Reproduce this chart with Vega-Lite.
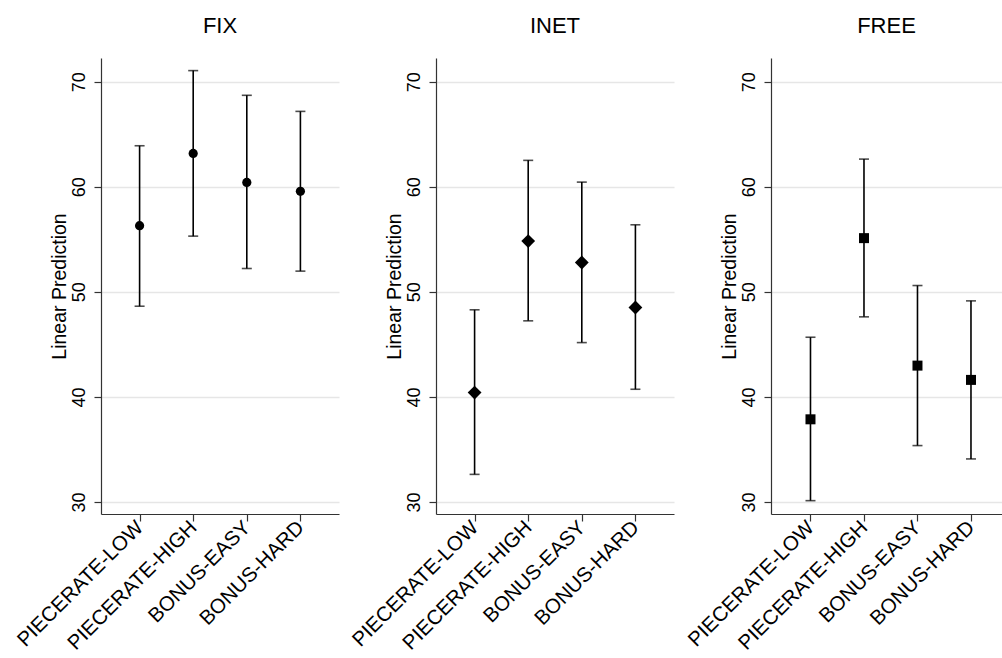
{
  "$schema": "https://vega.github.io/schema/vega-lite/v6.json",
  "background": "white",
  "padding": {"left": 13, "top": 15, "right": 0, "bottom": 0},
  "autosize": {"type": "pad"},
  "spacing": 97,
  "bounds": "flush",
  "data": {
    "values": [
      {"model": "FIX", "treatment": "PIECERATE-LOW", "est": 56.29, "lo": 48.63, "hi": 63.9},
      {"model": "FIX", "treatment": "PIECERATE-HIGH", "est": 63.17, "lo": 55.3, "hi": 71.05},
      {"model": "FIX", "treatment": "BONUS-EASY", "est": 60.41, "lo": 52.22, "hi": 68.7},
      {"model": "FIX", "treatment": "BONUS-HARD", "est": 59.56, "lo": 51.97, "hi": 67.17},
      {"model": "INET", "treatment": "PIECERATE-LOW", "est": 40.41, "lo": 32.63, "hi": 48.29},
      {"model": "INET", "treatment": "PIECERATE-HIGH", "est": 54.83, "lo": 47.24, "hi": 62.51},
      {"model": "INET", "treatment": "BONUS-EASY", "est": 52.79, "lo": 45.17, "hi": 60.44},
      {"model": "INET", "treatment": "BONUS-HARD", "est": 48.51, "lo": 40.73, "hi": 56.38},
      {"model": "FREE", "treatment": "PIECERATE-LOW", "est": 37.87, "lo": 30.13, "hi": 45.68},
      {"model": "FREE", "treatment": "PIECERATE-HIGH", "est": 55.11, "lo": 47.62, "hi": 62.63},
      {"model": "FREE", "treatment": "BONUS-EASY", "est": 42.98, "lo": 35.37, "hi": 50.6},
      {"model": "FREE", "treatment": "BONUS-HARD", "est": 41.62, "lo": 34.1, "hi": 49.14}
    ]
  },
  "config": {
    "font": "Liberation Sans",
    "view": {"stroke": null},
    "title": {"fontSize": 22, "fontWeight": "normal", "color": "black", "baseline": "alphabetic", "offset": 20, "anchor": "middle"},
    "axis": {
      "domainColor": "#333333",
      "domainWidth": 1.2,
      "tickColor": "#333333",
      "tickWidth": 1.2,
      "tickSize": 7,
      "labelColor": "black",
      "titleColor": "black",
      "labelFont": "Liberation Sans",
      "titleFont": "Liberation Sans"
    },
    "axisX": {
      "labelAngle": -45,
      "labelAlign": "right",
      "labelBaseline": "middle",
      "labelFontSize": 20.5,
      "labelPadding": 3,
      "labelLimit": 0,
      "grid": false,
      "title": null
    },
    "axisY": {
      "labelAngle": -90,
      "labelAlign": "center",
      "labelBaseline": "alphabetic",
      "labelFontSize": 18,
      "labelPadding": 10,
      "titleFontSize": 19.5,
      "titleFontWeight": "normal",
      "titlePadding": 1,
      "grid": true,
      "gridColor": "#e6e6e6",
      "gridWidth": 1.5
    }
  },
  "hconcat": [
    {
      "title": "FIX",
      "width": 238,
      "height": 456,
      "transform": [{"filter": "datum.model === 'FIX'"}],
      "encoding": {
        "x": {"field": "treatment", "type": "ordinal", "sort": ["PIECERATE-LOW", "PIECERATE-HIGH", "BONUS-EASY", "BONUS-HARD"], "scale": {"type": "point", "padding": 0.72}}
      },
      "layer": [
        {"mark": {"type": "rule", "color": "black", "strokeWidth": 1.6},
         "encoding": {"y": {"field": "lo", "type": "quantitative", "title": "Linear Prediction", "axis": {"values": [30, 40, 50, 60, 70]}, "scale": {"domain": [28.86, 72.25], "nice": false, "zero": false}}, "y2": {"field": "hi"}}},
        {"mark": {"type": "tick", "color": "black", "size": 10, "thickness": 1.6},
         "encoding": {"y": {"field": "lo", "type": "quantitative", "title": "Linear Prediction"}}},
        {"mark": {"type": "tick", "color": "black", "size": 10, "thickness": 1.6},
         "encoding": {"y": {"field": "hi", "type": "quantitative", "title": "Linear Prediction"}}},
        {"mark": {"type": "point", "shape": "circle", "filled": true, "color": "black", "opacity": 1, "size": 85},
         "encoding": {"y": {"field": "est", "type": "quantitative", "title": "Linear Prediction"}}}
      ]
    },
    {
      "title": "INET",
      "width": 238,
      "height": 456,
      "transform": [{"filter": "datum.model === 'INET'"}],
      "encoding": {
        "x": {"field": "treatment", "type": "ordinal", "sort": ["PIECERATE-LOW", "PIECERATE-HIGH", "BONUS-EASY", "BONUS-HARD"], "scale": {"type": "point", "padding": 0.72}}
      },
      "layer": [
        {"mark": {"type": "rule", "color": "black", "strokeWidth": 1.6},
         "encoding": {"y": {"field": "lo", "type": "quantitative", "title": "Linear Prediction", "axis": {"values": [30, 40, 50, 60, 70]}, "scale": {"domain": [28.86, 72.25], "nice": false, "zero": false}}, "y2": {"field": "hi"}}},
        {"mark": {"type": "tick", "color": "black", "size": 10, "thickness": 1.6},
         "encoding": {"y": {"field": "lo", "type": "quantitative", "title": "Linear Prediction"}}},
        {"mark": {"type": "tick", "color": "black", "size": 10, "thickness": 1.6},
         "encoding": {"y": {"field": "hi", "type": "quantitative", "title": "Linear Prediction"}}},
        {"mark": {"type": "point", "shape": "diamond", "filled": true, "color": "black", "opacity": 1, "size": 190},
         "encoding": {"y": {"field": "est", "type": "quantitative", "title": "Linear Prediction"}}}
      ]
    },
    {
      "title": "FREE",
      "width": 231,
      "height": 456,
      "transform": [{"filter": "datum.model === 'FREE'"}],
      "encoding": {
        "x": {"field": "treatment", "type": "ordinal", "sort": ["PIECERATE-LOW", "PIECERATE-HIGH", "BONUS-EASY", "BONUS-HARD"], "scale": {"type": "point", "padding": 0.659, "align": 0.56}}
      },
      "layer": [
        {"mark": {"type": "rule", "color": "black", "strokeWidth": 1.6},
         "encoding": {"y": {"field": "lo", "type": "quantitative", "title": "Linear Prediction", "axis": {"values": [30, 40, 50, 60, 70]}, "scale": {"domain": [28.86, 72.25], "nice": false, "zero": false}}, "y2": {"field": "hi"}}},
        {"mark": {"type": "tick", "color": "black", "size": 10, "thickness": 1.6},
         "encoding": {"y": {"field": "lo", "type": "quantitative", "title": "Linear Prediction"}}},
        {"mark": {"type": "tick", "color": "black", "size": 10, "thickness": 1.6},
         "encoding": {"y": {"field": "hi", "type": "quantitative", "title": "Linear Prediction"}}},
        {"mark": {"type": "point", "shape": "square", "filled": true, "color": "black", "opacity": 1, "size": 100},
         "encoding": {"y": {"field": "est", "type": "quantitative", "title": "Linear Prediction"}}}
      ]
    }
  ]
}
